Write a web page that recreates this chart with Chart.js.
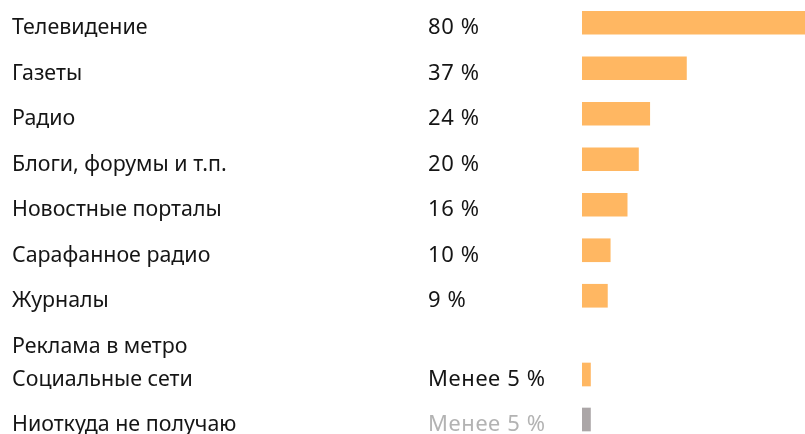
<!DOCTYPE html>
<html lang="ru">
<head>
<meta charset="utf-8">
<script src="https://cdn.jsdelivr.net/npm/chart.js@4"></script>
<style>
  html, body { margin: 0; padding: 0; background: #fff; overflow: hidden; }
  .wrap { position: relative; width: 805px; height: 434px; }
  canvas { position: absolute; left: 0; }
</style>
</head>
<body>
<div class="wrap">
  <canvas id="topChart" width="805" height="364" style="top:0"></canvas>
  <canvas id="bottomChart" width="805" height="90" style="top:352px"></canvas>
</div>
<script>
// data
const categories = ["Телевидение", "Газеты", "Радио", "Блоги, форумы и т.п.", "Новостные порталы",
  "Сарафанное радио", "Журналы", "Реклама в метро", "Социальные сети", "Ниоткуда не получаю"];
const shares = [80, 37, 24, 20, 16, 10, 9, null, 3, 3];
const shareLabels = ["80 %", "37 %", "24 %", "20 %", "16 %", "10 %", "9 %", "", "Менее 5 %", "Менее 5 %"];
const axisMax = 79; // the 80 % bar runs off the right edge

const ORANGE = "#ffb762";
const GREY = "#aba6a7";

// category name + value text, drawn at the bar rows of the y scale
const rowLabels = {
  id: "rowLabels",
  afterDatasetsDraw(chart, args, opts) {
    const ctx = chart.ctx;
    const y = chart.scales.y;
    ctx.save();
    ctx.textBaseline = "alphabetic";
    chart.data.labels.forEach((name, i) => {
      const py = y.getPixelForValue(i) + 11.5;
      ctx.font = '21.4px "Noto Sans"';
      ctx.letterSpacing = "0px";
      ctx.fillStyle = "#151515";
      ctx.fillText(name, 12, py);
      ctx.font = '22px "Noto Sans"';
      ctx.letterSpacing = "0.6px";
      ctx.fillStyle = opts.valueColors[i];
      ctx.fillText(opts.values[i], 428, py);
    });
    ctx.restore();
  }
};

function makeChart(id, from, to) {
  const labels = categories.slice(from, to);
  const grey = labels.map(c => c === "Ниоткуда не получаю");
  return new Chart(document.getElementById(id), {
    type: "bar",
    data: {
      labels: labels,
      datasets: [{
        data: shares.slice(from, to),
        backgroundColor: grey.map(g => g ? GREY : ORANGE),
        barThickness: 23,
        borderWidth: 0
      }]
    },
    options: {
      indexAxis: "y",
      responsive: false,
      animation: false,
      layout: { padding: { left: 582, right: 0, top: 0, bottom: 0 } },
      scales: {
        x: { display: false, min: 0, max: axisMax },
        y: { display: false }
      },
      plugins: {
        legend: { display: false },
        tooltip: { enabled: false },
        rowLabels: {
          values: shareLabels.slice(from, to),
          valueColors: grey.map(g => g ? "#b3b3b3" : "#151515")
        }
      }
    },
    plugins: [rowLabels]
  });
}

makeChart("topChart", 0, 8);
makeChart("bottomChart", 8, 10);
</script>
</body>
</html>
